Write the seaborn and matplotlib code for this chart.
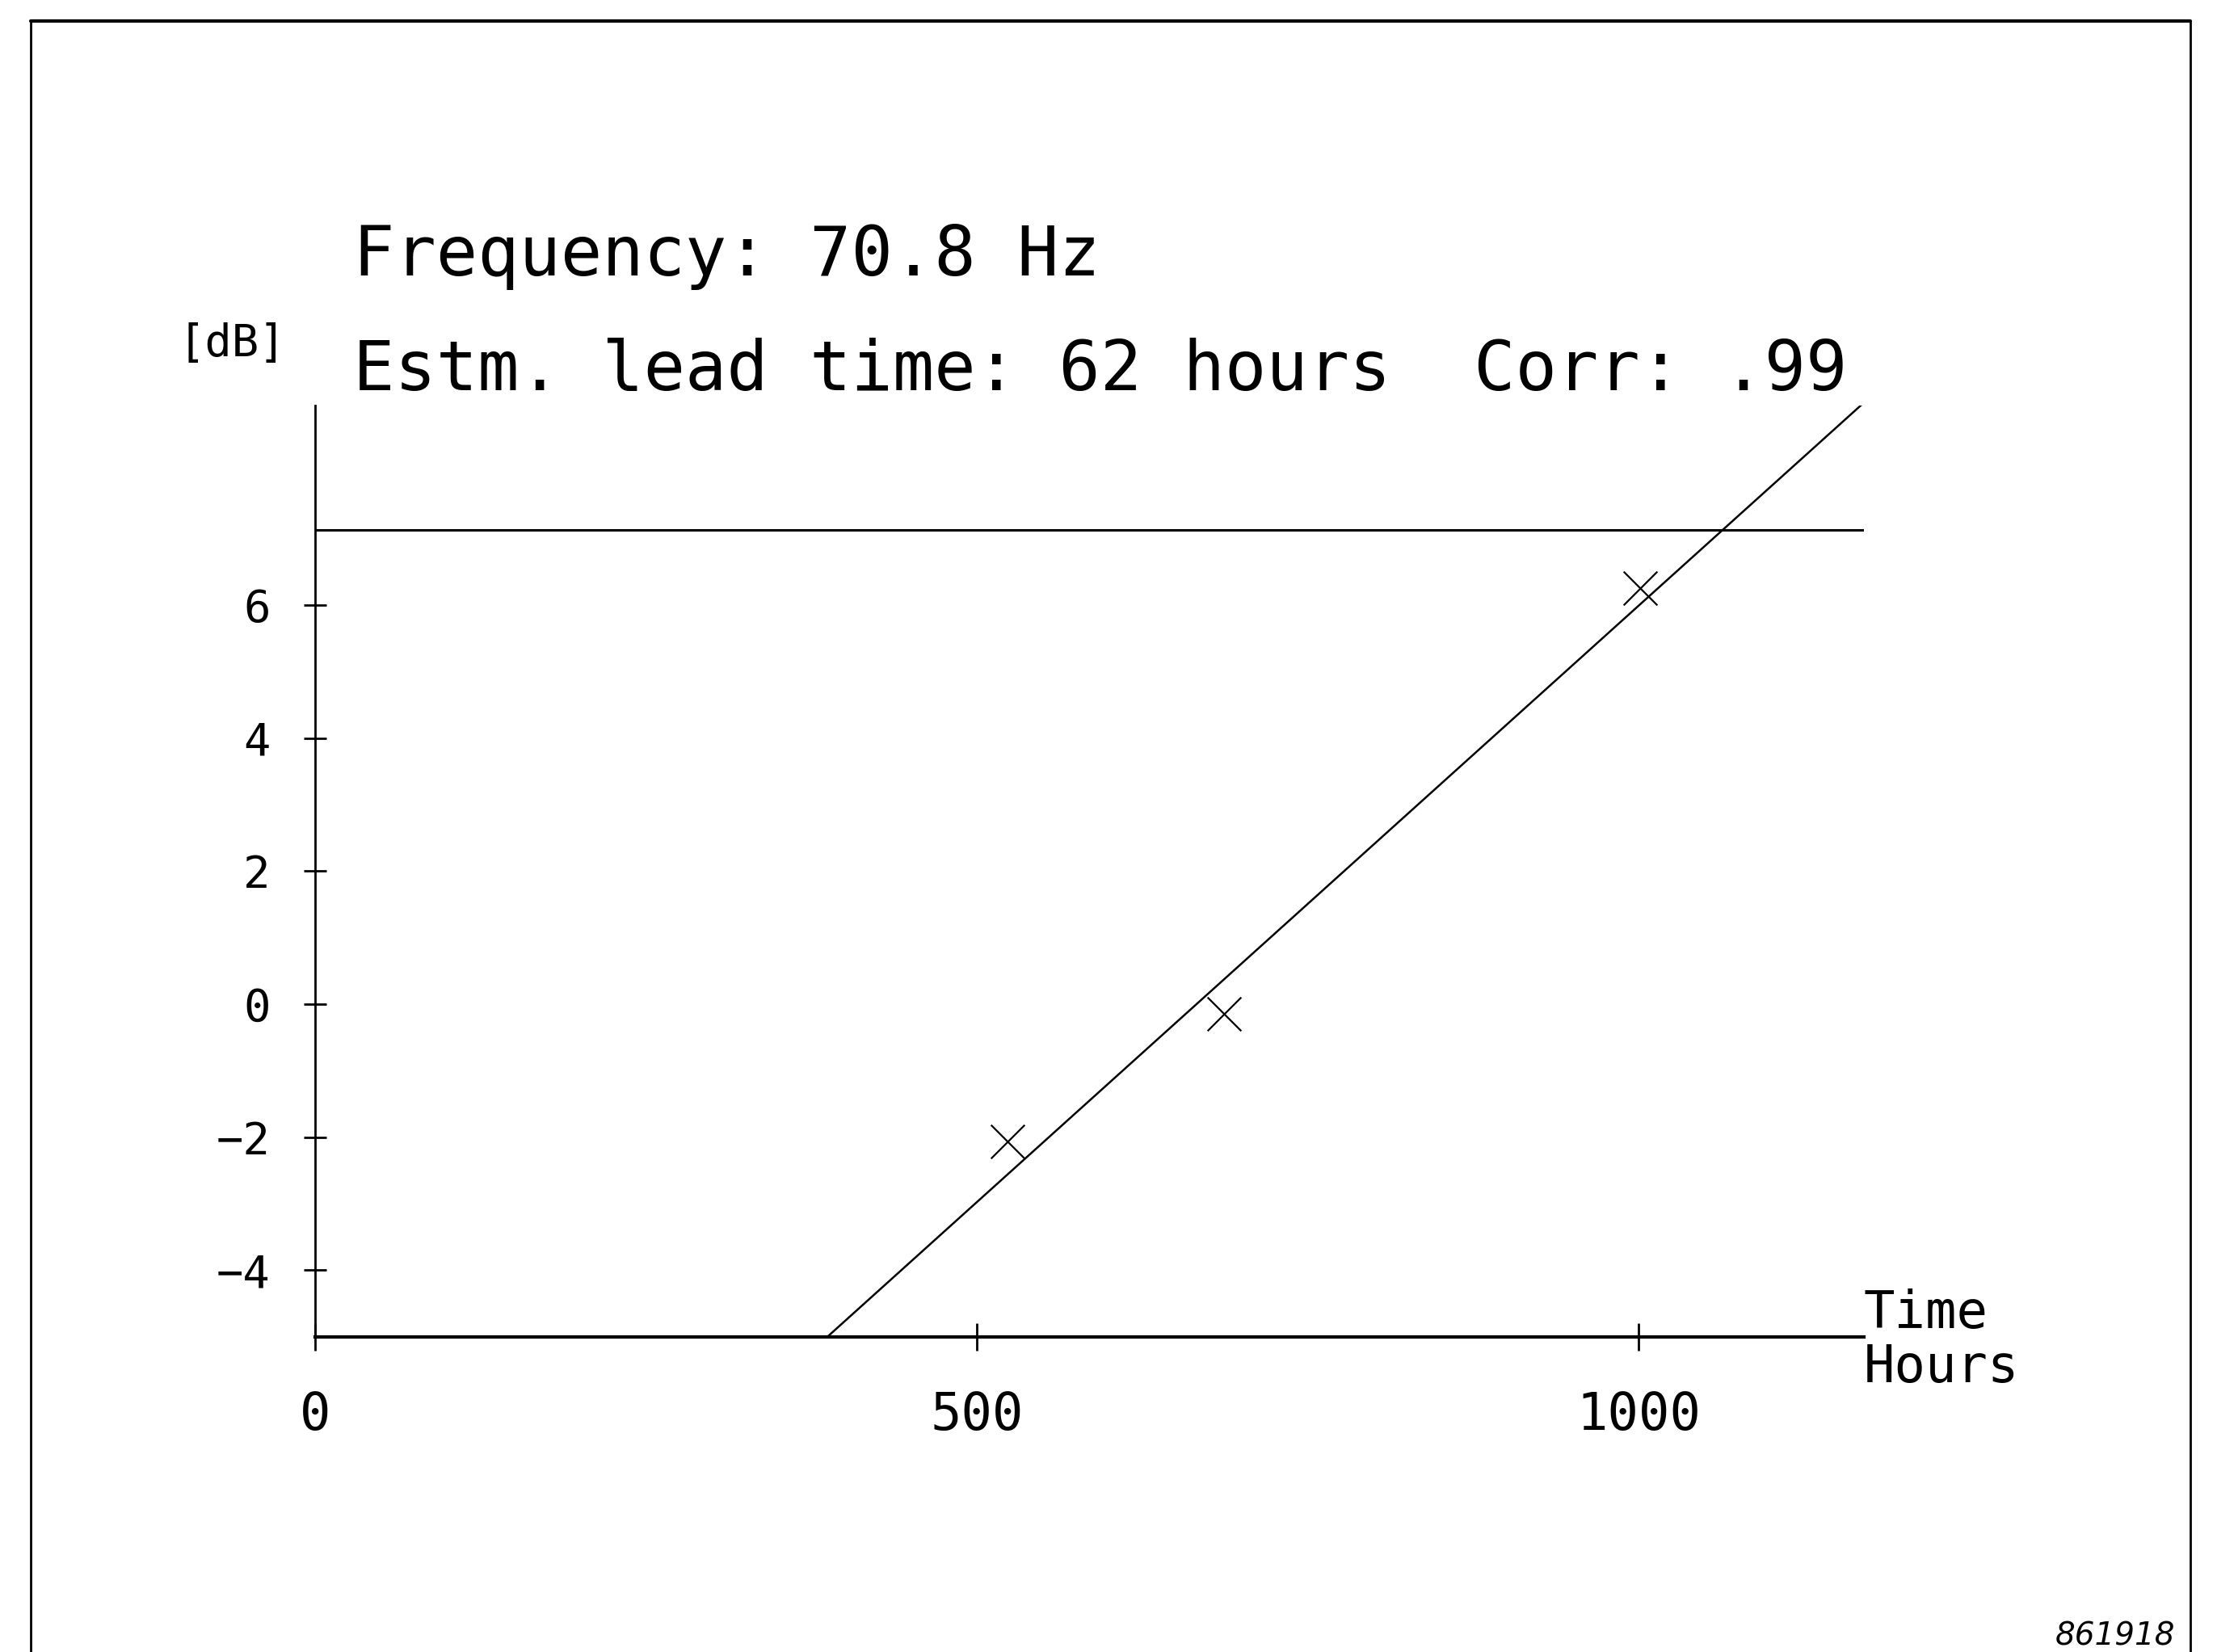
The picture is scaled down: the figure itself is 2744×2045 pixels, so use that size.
import numpy as np
import pandas as pd
import matplotlib
matplotlib.use('Agg')
import matplotlib.pyplot as plt
from matplotlib.lines import Line2D
import seaborn as sns

# measured points (hours, dB)
meas_hours = [523, 687, 1001]
meas_db = [-2.06, -0.15, 6.26]

# fitted trend line end points
fit_hours = [387, 1170]
fit_db = [-5.0, 9.04]

# alarm level
threshold_db = 7.13

x_ticks = [0, 500, 1000]
x_labels = ['0', '500', '1000']
y_ticks = [-4, -2, 0, 2, 4, 6]
y_labels = ['\u22124', '\u22122', '0', '2', '4', '6']

freq_text = 'Frequency: 70.8 Hz'
lead_text = 'Estm. lead time: 62 hours  Corr: .99'

sns.set_theme(style='white')
plt.rcParams['font.family'] = ['DejaVu Sans Mono', 'DejaVu Sans']
plt.rcParams['text.color'] = 'black'
plt.rcParams['xtick.color'] = 'black'
plt.rcParams['ytick.color'] = 'black'

fig = plt.figure(figsize=(27.44, 20.45), dpi=100)
ax = fig.add_axes([0.1422, 0.1908, 0.8406 - 0.1422, 0.7545 - 0.1908])

df_fit = pd.DataFrame({'hours': fit_hours, 'db': fit_db})
df_meas = pd.DataFrame({'hours': meas_hours, 'db': meas_db})

sns.lineplot(data=df_fit, x='hours', y='db', color='black', linewidth=1.8, ax=ax)
sns.scatterplot(data=df_meas, x='hours', y='db', marker='x', s=900,
                color='black', linewidth=1.6, ax=ax)
ax.axhline(threshold_db, color='black', linewidth=2.2)

ax.set_xlim(0, 1170)
ax.set_ylim(-5, 9.0)
ax.set_xticks(x_ticks)
ax.set_xticklabels(x_labels)
ax.set_yticks(y_ticks)
ax.set_yticklabels(y_labels)
ax.set_xlabel('')
ax.set_ylabel('')

for s in ['top', 'right']:
    ax.spines[s].set_visible(False)
ax.spines['left'].set_linewidth(2.0)
ax.spines['bottom'].set_linewidth(3.0)
ax.spines['left'].set_color('black')
ax.spines['bottom'].set_color('black')

ax.tick_params(axis='y', direction='inout', length=20, width=2, pad=30,
               labelsize=40, colors='black', left=True)
ax.tick_params(axis='x', direction='inout', length=24, width=2, pad=36,
               labelsize=46, colors='black', bottom=True)

# header texts
fig.text(0.1594, 0.8332, freq_text, fontsize=61.5, va='baseline', ha='left')
fig.text(0.1594, 0.7639, lead_text, fontsize=61.5, va='baseline', ha='left')
fig.text(0.0804, 0.7844, '[dB]', fontsize=40, va='baseline', ha='left')

# axis unit labels
fig.text(0.8406, 0.1959, 'Time', fontsize=46, va='baseline', ha='left')
fig.text(0.8406, 0.1634, 'Hours', fontsize=46, va='baseline', ha='left')

# document frame
fig.add_artist(Line2D([0.014, 0.9879], [0.9872, 0.9872], color='black', linewidth=3))
fig.add_artist(Line2D([0.014, 0.014], [0.0, 0.9872], color='black', linewidth=2))
fig.add_artist(Line2D([0.9879, 0.9879], [0.0, 0.9872], color='black', linewidth=2))

fig.text(0.981, 0.004, '861918', fontsize=28, style='italic', family='DejaVu Sans',
         va='baseline', ha='right')

plt.savefig('out.png', dpi=100)
